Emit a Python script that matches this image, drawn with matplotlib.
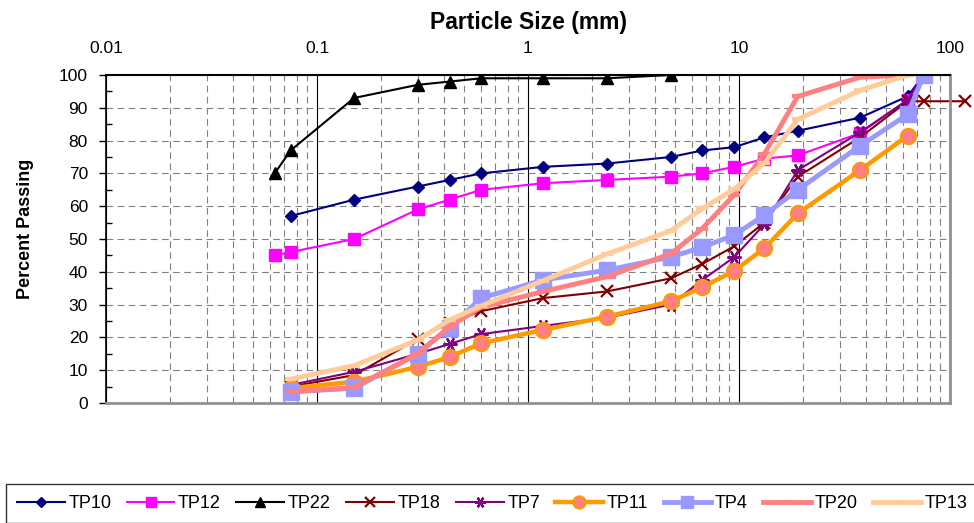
import matplotlib
matplotlib.use("Agg")
import matplotlib.pyplot as plt
from matplotlib.ticker import FixedLocator, NullFormatter

plt.rcParams["font.family"] = ["Liberation Sans", "DejaVu Sans"]

# sieve sizes (mm)
sizes_a = [0.063, 0.075, 0.15, 0.3, 0.425, 0.6, 1.18, 2.36, 4.75, 6.7, 9.5, 13.2, 19, 37.5, 63, 75]
sizes_b = sizes_a[1:]

tp10 = [57, 62, 66, 68, 70, 72, 73, 75, 77, 78, 81, 83, 87, 93.5, 100]
tp12 = [45, 46, 50, 59, 62, 65, 67, 68, 69, 70, 72, 74.5, 75.5, 82.3, 92.4, 100]
tp22_sizes = [0.063, 0.075, 0.15, 0.3, 0.425, 0.6, 1.18, 2.36, 4.75]
tp22 = [70, 77, 93, 97, 98, 99, 99, 99, 100]
tp18_sizes = sizes_b + [118]
tp18 = [5, 8.5, 19.5, 24.5, 28, 32, 34, 38, 42.4, 47.8, 55, 69, 81, 92, 92, 92]
tp7 = [5.5, 9.5, 15, 18, 21, 23.5, 26, 30, 37.5, 44.5, 54.5, 71, 82.5, 92.4, 100]
tp11_sizes = sizes_b[:-1]
tp11 = [4.5, 6.5, 11, 14, 18.2, 22.3, 26.3, 31, 35.3, 40.3, 47.2, 57.8, 71, 81.5]
tp4 = [3.4, 4.5, 15, 23, 32, 37.5, 40.5, 44.5, 47.5, 51.2, 57.3, 65, 78.4, 88, 100]
tp20 = [3.4, 4.8, 15, 23.3, 29.2, 34, 38.5, 45.5, 53.2, 63.5, 76, 93.5, 99.3, 100]
tp13 = [7.3, 11.4, 19.2, 25.3, 29.6, 37.3, 45.4, 52.5, 59.3, 65.2, 73.2, 86.5, 95.3, 100]

fig = plt.figure(figsize=(9.74, 5.23), dpi=100)
ax = fig.add_axes([106 / 974, 1 - 403 / 523, 844 / 974, 328 / 523])

ax.plot(sizes_b, tp10, color="#000080", lw=1.5, marker="D", ms=6, label="TP10")
ax.plot(sizes_a, tp12, color="#FF00FF", lw=1.5, marker="s", ms=9, label="TP12")
ax.plot(tp22_sizes, tp22, color="black", lw=1.5, marker="^", ms=9, label="TP22")
ax.plot(tp18_sizes, tp18, color="#800000", lw=1.5, marker="x", ms=9, mew=1.6,
        label="TP18", clip_on=False)
ax.plot(sizes_b, tp7, color="#800080", lw=1.5, marker=(6, 2, 90), ms=10, mew=1.6, label="TP7")
ax.plot(tp11_sizes, tp11, color="#FF9900", lw=3.2, marker="o", ms=11,
        mfc="#FF8080", mec="#FF9900", mew=1.5, label="TP11")
ax.plot(sizes_b, tp4, color="#9999FF", lw=3.5, marker="s", ms=11.5, label="TP4")
ax.plot(tp11_sizes, tp20, color="#FF8080", lw=3.5, marker="_", ms=8, mew=3, label="TP20")
ax.plot(tp11_sizes, tp13, color="#FFCC99", lw=3.5, marker="_", ms=8, mew=3, label="TP13")

ax.set_xscale("log")
ax.set_xlim(0.01, 100)
ax.set_ylim(0, 100)

# x axis on top
ax.xaxis.tick_top()
ax.xaxis.set_label_position("top")
ax.set_xticks([0.01, 0.1, 1, 10, 100])
ax.set_xticklabels(["0.01", "0.1", "1", "10", "100"])
ax.xaxis.set_minor_locator(FixedLocator([m * 10.0 ** e for e in range(-2, 2) for m in range(2, 10)]))
ax.xaxis.set_minor_formatter(NullFormatter())
ax.tick_params(axis="x", which="both", length=0, pad=14, labelsize=12.5)

ax.set_yticks(range(0, 101, 10))
ax.yaxis.set_minor_locator(FixedLocator(range(5, 100, 10)))
ax.tick_params(axis="y", which="major", direction="out", length=5, width=1, pad=8, labelsize=12.5)
ax.tick_params(axis="y", which="minor", direction="in", length=4, width=1)

ax.grid(True, which="minor", axis="x", color="#808080", ls=(0, (6, 4)), lw=0.8)
ax.grid(True, which="major", axis="x", color="black", ls="-", lw=0.8)
ax.grid(True, which="major", axis="y", color="#808080", ls=(0, (6, 4)), lw=0.8)

ax.spines["top"].set_linewidth(1.5)
ax.spines["left"].set_linewidth(1.2)
for side in ["right", "bottom"]:
    ax.spines[side].set_color("#909090")
    ax.spines[side].set_linewidth(2)

ax.set_xlabel("Particle Size (mm)", fontsize=16.5, fontweight="bold")
ax.xaxis.set_label_coords(0.5, 1.14)
ax.set_ylabel("Percent Passing", fontsize=13, fontweight="bold")
ax.yaxis.set_label_coords(-0.085, 0.53)

fig.legend(loc="upper left", bbox_to_anchor=(6 / 974, 1 - 484 / 523), ncol=9,
           fontsize=13, frameon=True, fancybox=False, edgecolor="black",
           handlelength=2.65, handletextpad=0.2, columnspacing=0.85,
           borderpad=0.6, borderaxespad=0, markerscale=0.8)

fig.savefig("out.png", dpi=100)
